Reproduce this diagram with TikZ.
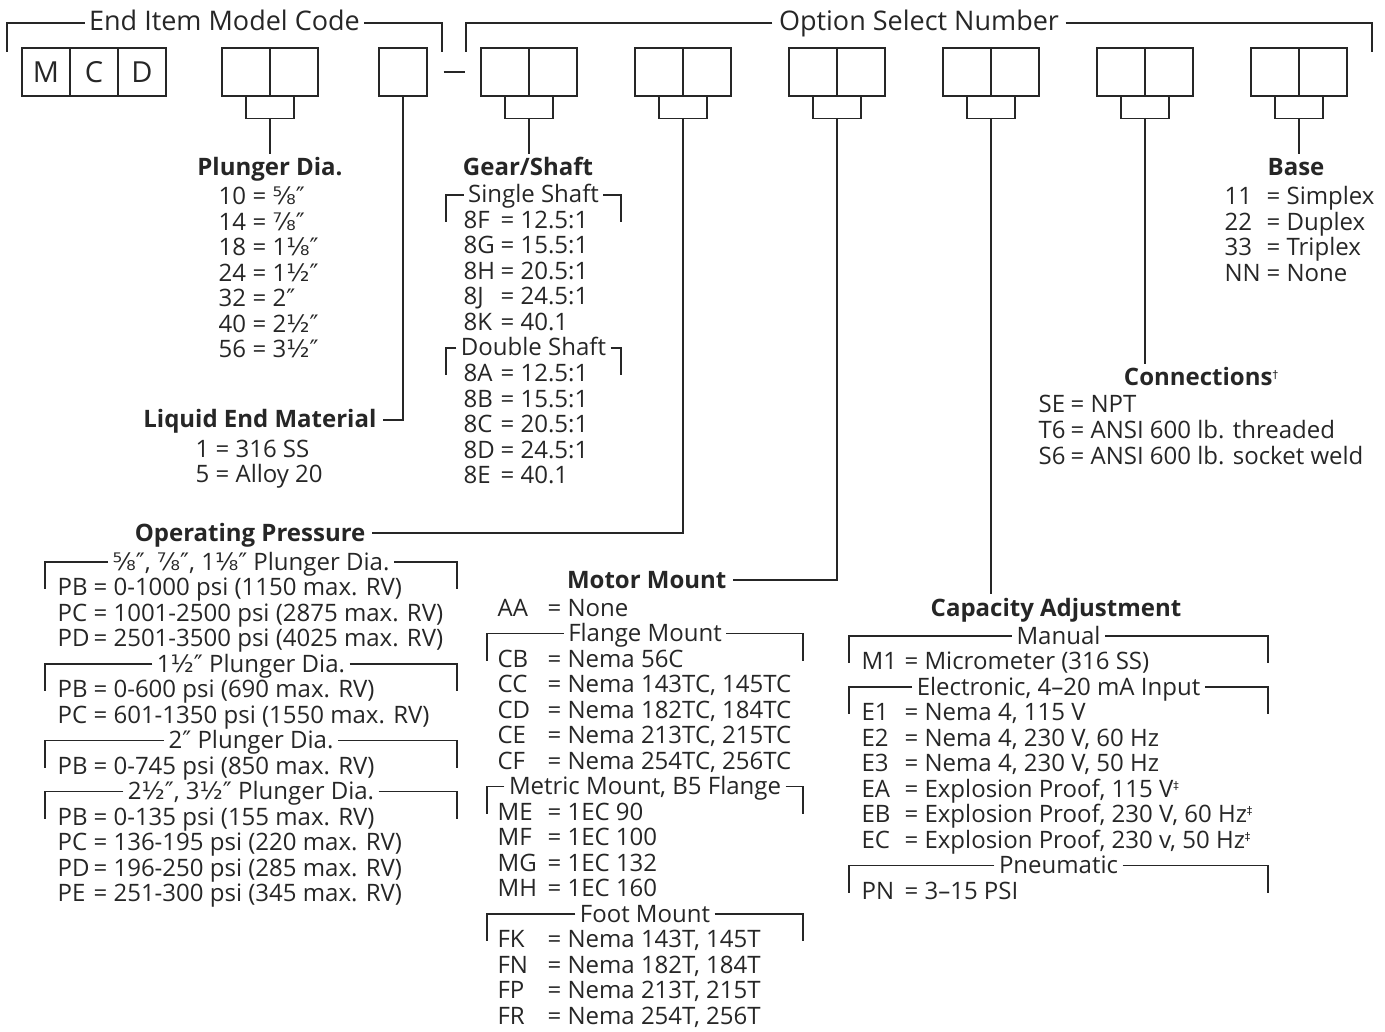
\documentclass[tikz,border=0pt]{standalone}
\usepackage{fontspec}
\setmainfont{Open Sans}
\newfontfamily\symf{DejaVu Sans}
\usepackage{tikz}
\newcommand\fsize{\fontsize{24pt}{26pt}\selectfont}
\newcommand\topsize{\fontsize{27pt}{29pt}\selectfont}
\newcommand\sy[1]{{\symf #1}}
\newcommand\dg[1]{\raisebox{8pt}{\fontsize{11pt}{11pt}\selectfont\normalfont\symf #1}}
\tikzstyle{codecell}=[draw,minimum width=48pt,minimum height=48pt,inner sep=0pt]
\tikzstyle{blocktitle}=[font=\fsize\bfseries,anchor=base,inner xsep=6pt,inner ysep=4pt,text height=17pt,text depth=1pt]
\tikzstyle{grphead}=[anchor=base,inner xsep=4pt,inner ysep=0pt,text height=17pt,text depth=1pt]
\tikzstyle{optitem}=[anchor=base west,inner sep=0pt]
% header of an option group, with its bracket
\newcommand\grp[5]{%
  \node[grphead] (#1) at ({(#2+#3)/2},#4) {#5};
  \draw (#1.west) -- (#2,#4-8) -- (#2,#4+19);
  \draw (#1.east) -- (#3,#4-8) -- (#3,#4+19);
}
% run of option lines, code/value
\newcommand\optlist[5]{%
  \foreach \ky/\vl [count=\i] in {#5}
    \node[optitem] (#1\i) at (#2,{#3+25.5*(\i-1)}) {\makebox[#4][l]{\ky}= \vl};
}

\begin{document}
\begin{tikzpicture}[x=1pt,y=-1pt,line width=1.2pt,color=black!85,font=\fsize]
        \useasboundingbox (0,0) rectangle (1385,1032);

        % code boxes
        \foreach \t [count=\i] in {M,C,D}
          \node[codecell,font=\fontsize{29pt}{30pt}\selectfont] (m\i) at (48*\i-2,72) {\t};
        \node[codecell] (le) at (403,72) {};
        \foreach \n/\x in {pd/222,gs/481,op/635,mm/789,ca/943,cn/1097,bs/1251} {
          \node[codecell] (\n1) at (\x+24,72) {};
          \node[codecell] (\n2) at (\x+72,72) {};
          \draw (\n1.south) -- ++(0,22) -| (\n2.south);
          \coordinate (\n-s) at (\x+48,118);
        }
        \draw ([xshift=16pt]le.east) -- ([xshift=-15pt]gs1.west);

        % top brackets
        \node[grphead,font=\topsize] (eimc) at (224.5,31) {End Item Model Code};
        \draw (eimc.west) -- (7,23) -- (7,52);
        \draw (eimc.east) -- (442,23) -- (442,52);
        \node[grphead,font=\topsize,inner xsep=6pt] (osn) at (919,31) {Option Select Number};
        \draw (osn.west) -- (466,23) -- (466,52);
        \draw (osn.east) -- (1372,23) -- (1372,52);

        % plunger dia.
        \node[blocktitle] (plunger) at (270,176) {Plunger Dia.};
        \draw (pd-s) -- (pd-s |- plunger.north);
        \optlist{pdx}{218}{205}{34pt}{10/\sy{⅝″}, 14/\sy{⅞″}, 18/1\sy{⅛″}, 24/1\sy{½″}, 32/2\sy{″}, 40/2\sy{½″}, 56/3\sy{½″}}

        % gear/shaft
        \node[blocktitle] (gear) at (528,176) {Gear/Shaft};
        \draw (gs-s) -- (gs-s |- gear.north);
        \grp{single}{446}{621}{203}{Single Shaft}
        \optlist{gsa}{463}{228.5}{37pt}{8F/12.5:1, 8G/15.5:1, 8H/20.5:1, 8J/24.5:1, 8K/40.1}
        \grp{double}{446}{621}{356}{Double Shaft}
        \optlist{gsb}{463}{381.5}{37pt}{8A/12.5:1, 8B/15.5:1, 8C/20.5:1, 8D/24.5:1, 8E/40.1}

        % liquid end material
        \node[blocktitle,anchor=base east] (liquid) at (383,428) {Liquid End Material};
        \draw (le.south) |- (liquid.east);
        \optlist{lex}{195}{457}{20pt}{1/316 SS, 5/Alloy 20}

        % operating pressure
        \node[blocktitle,anchor=base east] (press) at (372,541) {Operating Pressure};
        \draw (op-s) |- (press.east);
        \grp{pga}{45}{457}{570}{\sy{⅝″}, \sy{⅞″}, 1\sy{⅛″} Plunger Dia.}
        \optlist{opa}{57}{595.5}{36pt}{PB/0-1000 psi (1150 max. RV), PC/1001-2500 psi (2875 max. RV), PD/2501-3500 psi (4025 max. RV)}
        \grp{pgb}{45}{457}{672}{1\sy{½″} Plunger Dia.}
        \optlist{opb}{57}{697.5}{36pt}{PB/0-600 psi (690 max. RV), PC/601-1350 psi (1550 max. RV)}
        \grp{pgc}{45}{457}{748.5}{2\sy{″} Plunger Dia.}
        \optlist{opc}{57}{774}{36pt}{PB/0-745 psi (850 max. RV)}
        \grp{pgd}{45}{457}{799.5}{2\sy{½″}, 3\sy{½″} Plunger Dia.}
        \optlist{opd}{57}{825}{36pt}{PB/0-135 psi (155 max. RV), PC/136-195 psi (220 max. RV), PD/196-250 psi (285 max. RV), PE/251-300 psi (345 max. RV)}

        % motor mount
        \node[blocktitle,anchor=base east] (motor) at (733,588) {Motor Mount};
        \draw (mm-s) |- (motor.east);
        \optlist{mma}{497}{616}{50pt}{AA/None}
        \grp{flange}{487}{803}{641.5}{Flange Mount}
        \optlist{mmb}{497}{667}{50pt}{CB/Nema 56C, CC/{Nema 143TC, 145TC}, CD/{Nema 182TC, 184TC}, CE/{Nema 213TC, 215TC}, CF/{Nema 254TC, 256TC}}
        \grp{metric}{487}{803}{794.5}{Metric Mount, B5 Flange}
        \optlist{mmc}{497}{820}{50pt}{ME/1EC 90, MF/1EC 100, MG/1EC 132, MH/1EC 160}
        \grp{foot}{487}{803}{922}{Foot Mount}
        \optlist{mmd}{497}{947.5}{50pt}{FK/{Nema 143T, 145T}, FN/{Nema 182T, 184T}, FP/{Nema 213T, 215T}, FR/{Nema 254T, 256T}}

        % capacity adjustment
        \node[blocktitle] (capac) at (1056,616) {Capacity Adjustment};
        \draw (ca-s) -- (ca-s |- capac.north);
        \grp{manual}{849}{1268}{644}{Manual}
        \optlist{caa}{861}{669.5}{43pt}{M1/Micrometer (316 SS)}
        \grp{electronic}{849}{1268}{695}{Electronic, 4--20 mA Input}
        \optlist{cab}{861}{720.5}{43pt}{E1/{Nema 4, 115 V}, E2/{Nema 4, 230 V, 60 Hz}, E3/{Nema 4, 230 V, 50 Hz}, EA/{Explosion Proof, 115 V\dg{‡}}, EB/{Explosion Proof, 230 V, 60 Hz\dg{‡}}, EC/{Explosion Proof, 230 v, 50 Hz\dg{‡}}}
        \grp{pneumatic}{849}{1268}{873.5}{Pneumatic}
        \optlist{cac}{861}{899}{43pt}{PN/3--15 PSI}

        % connections
        \node[blocktitle] (conn) at (1201,386) {Connections\dg{†}};
        \draw (cn-s) -- (cn-s |- conn.north);
        \optlist{cnx}{1038}{413}{32pt}{SE/NPT, T6/ANSI 600 lb. threaded, S6/ANSI 600 lb. socket weld}

        % base
        \node[blocktitle] (base) at (1296,176) {Base};
        \draw (bs-s) -- (bs-s |- base.north);
        \optlist{bsx}{1224}{205}{42pt}{11/Simplex, 22/Duplex, 33/Triplex, NN/None}
\end{tikzpicture}
\end{document}
